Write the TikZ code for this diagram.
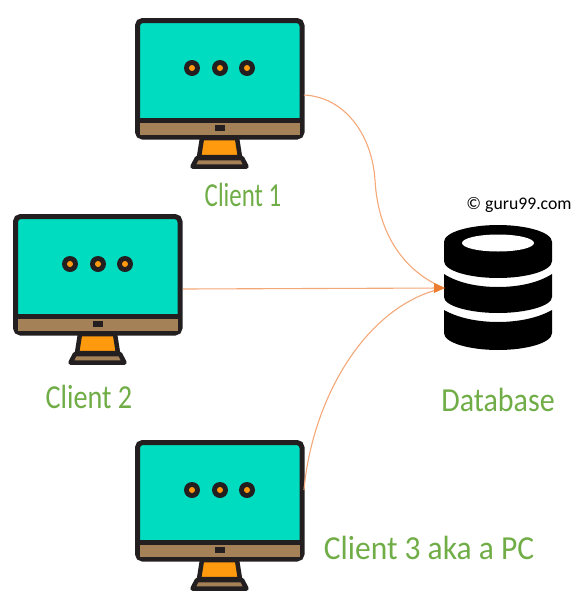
\documentclass[tikz,border=0pt]{standalone}
\usepackage{fontspec}
\setmainfont{Carlito}
\usetikzlibrary{arrows.meta}
\definecolor{dk}{HTML}{231F20}
\definecolor{scr}{HTML}{00DCC0}
\definecolor{chin}{HTML}{A58158}
\definecolor{org}{HTML}{FF9A0E}
\definecolor{grn}{HTML}{70AD47}
\definecolor{wire}{HTML}{F4A878}
\definecolor{tip}{HTML}{ED7D31}
\tikzset{
 x=1pt,y=-1pt,
 lbl/.style={text=grn,font=\fontsize{30}{30}\selectfont,inner sep=0pt},
 wirel/.style={draw=wire,line width=1.1pt},
 monitor/.pic={
  % stand
  \draw[fill=org,draw=dk,line width=4.5pt,line join=round] (67,120)--(102,120)--(105,139)--(64,139)--cycle;
  \draw[fill=chin,draw=dk,line width=4.5pt,line join=round] (62,140)--(107,140)--(111.5,148.5)--(57.5,148.5)--cycle;
  % body
  \node[draw=dk,line width=5pt,rounded corners=5pt,fill=scr,minimum width=164.5pt,minimum height=116.5pt,inner sep=0pt,outer sep=0pt,anchor=north west] (-box) at (2.5,2.5) {};
  \fill[chin] (5,102) rectangle (164.5,116.5);
  \draw[dk,line width=5pt] (3,102)--(166,102);
  \fill[dk] (80,107) rectangle (90,113);
  \foreach \cx in {57,85,112}{
   \fill[dk] (\cx,50) circle (8pt);
   \fill[org] (\cx,50) circle (3pt);
  }
 }
}
\begin{document}
\begin{tikzpicture}
\useasboundingbox (0,0) rectangle (574,598);
\pic (c1) at (135,18) {monitor};
\pic (c2) at (13,214) {monitor};
\pic (c3) at (135,440) {monitor};
\coordinate (c1out) at (304,95);
\coordinate (c2out) at (183,289);
\coordinate (c3out) at (304,490);
% database
\node[inner sep=0pt,minimum width=108pt,minimum height=125pt] (db) at (498,288) {};
\coordinate (dbin) at (444,288);
\fill[black] (444,242) .. controls (444,232) and (470,225) .. (498,225) .. controls (526,225) and (552,232) .. (552,242) -- (552,261) .. controls (552,271) and (526,278) .. (498,278) .. controls (470,278) and (444,271) .. (444,261) -- cycle;
\fill[white] (498,243) ellipse (36pt and 8.5pt);
\fill[black] (444,274) .. controls (458,283) and (478,287) .. (498,287) .. controls (518,287) and (538,283) .. (552,274) -- (552,297) .. controls (552,306) and (526,313) .. (498,313) .. controls (470,313) and (444,306) .. (444,297) -- cycle;
\fill[black] (444,310) .. controls (458,318) and (478,322) .. (498,322) .. controls (518,322) and (538,318) .. (552,310) -- (552,333) .. controls (552,343) and (526,350) .. (498,350) .. controls (470,350) and (444,343) .. (444,333) -- cycle;
% connectors
\draw[wirel] (c1out) .. controls (345,97) and (372,135) .. (375,180) .. controls (378,235) and (405,272) .. (dbin);
\draw[wirel] (c2out) -- (dbin);
\draw[wirel] (c3out) .. controls (312,400) and (365,305) .. (dbin);
\fill[tip] (445,288) -- (434,283) -- (434,293) -- cycle;
% labels
\node[lbl,anchor=center] (l1) at (243,195) {\scalebox{0.83}[1.12]{Client 1}};
\node[lbl,anchor=center] (l2) at (89,397) {\scalebox{0.94}[1.12]{Client 2}};
\node[lbl,anchor=center] (l3) at (429,548) {\scalebox{1.05}[1.12]{Client 3 aka a PC}};
\node[lbl,anchor=center] (l4) at (498,400) {\scalebox{1}[1.12]{Database}};
\node[inner sep=0pt,font=\fontsize{17.7}{18}\selectfont,anchor=center] (cr) at (519,205) {© guru99.com};
\end{tikzpicture}
\end{document}
